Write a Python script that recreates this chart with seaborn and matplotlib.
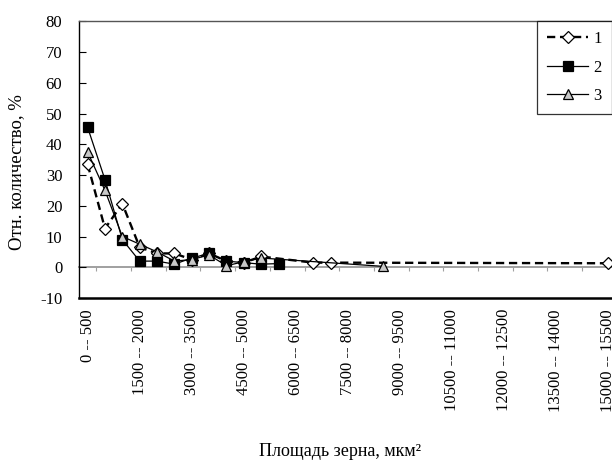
import numpy as np
import pandas as pd
import seaborn as sns
import matplotlib.pyplot as plt
from matplotlib.ticker import FixedLocator

categories = [
    "0 -- 500", "500 -- 1000", "1000 -- 1500", "1500 -- 2000", "2000 -- 2500",
    "2500 -- 3000", "3000 -- 3500", "3500 -- 4000", "4000 -- 4500", "4500 -- 5000",
    "5000 -- 5500", "5500 -- 6000", "6000 -- 6500", "6500 -- 7000", "7000 -- 7500",
    "7500 -- 8000", "8000 -- 8500", "8500 -- 9000", "9000 -- 9500", "9500 -- 10000",
    "10000 -- 10500", "10500 -- 11000", "11000 -- 11500", "11500 -- 12000",
    "12000 -- 12500", "12500 -- 13000", "13000 -- 13500", "13500 -- 14000",
    "14000 -- 14500", "14500 -- 15000", "15000 -- 15500",
]
nan = np.nan
# series 1 (dashed, open diamonds)
s1 = [33.5, 12.6, 20.7, 6.5, 4.5, 4.5, 2.5, 4.5, 2.0, 1.5, 3.5, nan, nan, 1.5, 1.5,
      nan, nan, nan, nan, nan, nan, nan, nan, nan, nan, nan, nan, nan, nan, nan, 1.3]
# series 2 (solid, filled squares)
s2 = [45.5, 28.5, 9.0, 2.0, 2.0, 1.0, 3.0, 4.5, 2.0, 1.5, 1.0, 1.2]
# series 3 (solid, gray triangles)
s3 = [37.5, 25.0, 10.0, 7.5, 5.0, 2.0, 2.5, 4.0, 0.5, 1.8, 3.0,
      nan, nan, nan, nan, nan, nan, 0.3]
series_names = ["1", "2", "3"]

rows = []
for name, vals in zip(series_names, [s1, s2, s3]):
    for i, v in enumerate(vals):
        rows.append({"cat": i, "val": v, "series": name})
df = pd.DataFrame(rows).dropna()

plt.rcParams["font.family"] = ["Liberation Serif", "DejaVu Serif"]
plt.rcParams["font.size"] = 11.5
plt.rcParams["axes.unicode_minus"] = False

fig = plt.figure(figsize=(6.12, 4.69), dpi=100)
ax = fig.add_axes([0.129, 0.3646, 0.879, 0.590])

styles = {
    "1": dict(marker="D", markerfacecolor="white", linestyle=(0, (3.5, 2)), linewidth=1.7, markersize=6.5),
    "2": dict(marker="s", markerfacecolor="black", linestyle="-", linewidth=0.9, markersize=7),
    "3": dict(marker="^", markerfacecolor="#c8c8c8", linestyle="-", linewidth=0.9, markersize=7.5),
}
for name in series_names:
    sub = df[df["series"] == name]
    sns.lineplot(data=sub, x="cat", y="val", ax=ax, color="black", label=name,
                 markeredgecolor="black", markeredgewidth=0.9, errorbar=None,
                 zorder=3, **styles[name])

ax.set_xlim(-0.5, len(categories) - 0.5)
ax.set_ylim(-10, 80)
ax.set_yticks(np.arange(-10, 81, 10))
ax.set_xticks(np.arange(0, len(categories), 3))
ax.set_xticklabels(categories[::3], rotation=90, va="top", ha="center", fontsize=12)
ax.tick_params(axis="x", length=0, pad=8)
ax.tick_params(axis="y", direction="in", length=5, width=0.8, pad=12, labelsize=12)
ax.set_xlabel("")
ax.set_ylabel("")

for side in ["left", "top", "right"]:
    ax.spines[side].set_color("black")
    ax.spines[side].set_linewidth(1.0)
ax.spines["bottom"].set_linewidth(1.8)
ax.spines["top"].set_color("#555555")

# category axis crossing at zero
zero_frac = 10 / 90
sec = ax.secondary_xaxis(zero_frac)
sec.spines["bottom"].set_color("#a0a0a0")
sec.spines["bottom"].set_linewidth(1.4)
sec.xaxis.set_major_locator(FixedLocator(np.arange(0.5, len(categories), 2)))
sec.tick_params(axis="x", direction="out", length=3, color="#a0a0a0", labelbottom=False)

leg = ax.legend(loc="upper left", bbox_to_anchor=(0.851, 1.0), borderaxespad=0,
                frameon=True, fancybox=False, edgecolor="black", handlelength=2.5,
                labelspacing=0.75, borderpad=0.6, handletextpad=0.3, fontsize=12)
leg.get_frame().set_linewidth(0.9)

fig.text(0.027, 1 - 172 / 469, "Отн. количество, %", rotation=90,
         ha="center", va="center", fontsize=13.5)
fig.text(340 / 612, 1 - 451 / 469, "Площадь зерна, мкм²",
         ha="center", va="center", fontsize=13)

fig.savefig("out.png", dpi=100)
